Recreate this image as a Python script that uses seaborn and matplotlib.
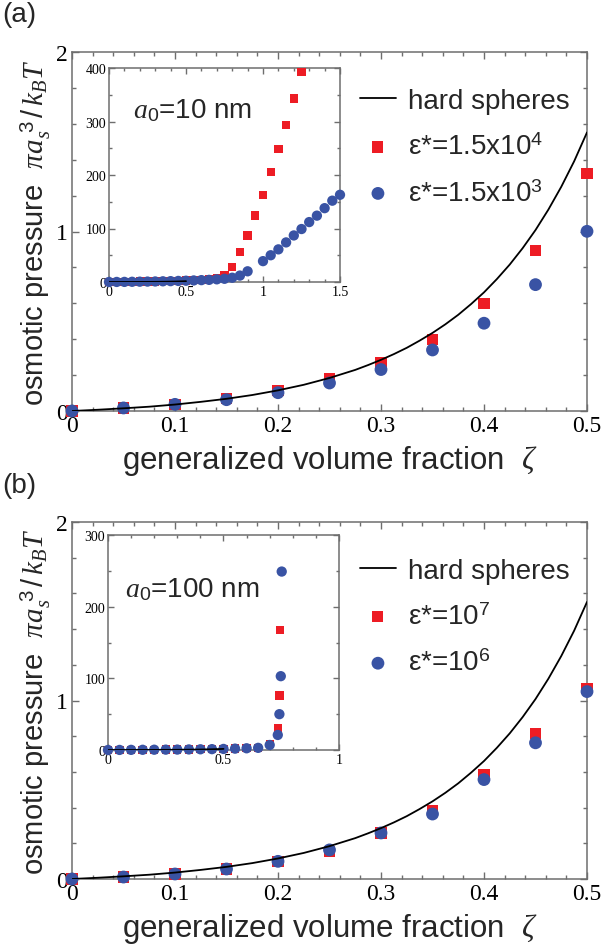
import matplotlib
matplotlib.use("Agg")
import matplotlib.pyplot as plt
import seaborn as sns
import pandas as pd
from matplotlib.ticker import MultipleLocator, FuncFormatter

# ---------------- data ----------------
zeta_main = [0.0, 0.05, 0.10, 0.15, 0.20, 0.25, 0.30, 0.35, 0.40, 0.45, 0.50]

# hard-sphere curve
zeta_hs = [0.0, 0.025, 0.05, 0.075, 0.10, 0.125, 0.15, 0.175, 0.20, 0.225, 0.25,
           0.275, 0.2875, 0.30, 0.3125, 0.325, 0.3375, 0.35, 0.3625, 0.375, 0.3875,
           0.40, 0.4125, 0.425, 0.4375, 0.45, 0.4625, 0.475, 0.4875, 0.50]
pi_hs = [0.0, 0.007, 0.015, 0.024, 0.036, 0.051, 0.068, 0.089, 0.115, 0.146, 0.184,
         0.229, 0.256, 0.285, 0.317, 0.352, 0.392, 0.435, 0.483, 0.536, 0.596,
         0.661, 0.735, 0.816, 0.907, 1.008, 1.122, 1.249, 1.391, 1.552]

# panel (a) main
a_red = [0.0, 0.017, 0.037, 0.068, 0.115, 0.180, 0.272, 0.398, 0.600, 0.893, 1.325]
a_blue = [0.0, 0.017, 0.037, 0.063, 0.102, 0.156, 0.231, 0.340, 0.489, 0.704, 1.001]
# panel (b) main
b_red = [0.0, 0.011, 0.028, 0.056, 0.099, 0.155, 0.258, 0.383, 0.583, 0.813, 1.065]
b_blue = [0.0, 0.011, 0.028, 0.056, 0.099, 0.163, 0.258, 0.364, 0.557, 0.763, 1.050]

# inset (a), a0 = 10 nm
ia_red_x = [0.0, 0.05, 0.10, 0.15, 0.20, 0.25, 0.30, 0.35, 0.40, 0.45, 0.50, 0.55, 0.60,
            0.65, 0.70, 0.75, 0.80, 0.85, 0.90, 0.95, 1.00, 1.05, 1.10, 1.15, 1.20, 1.25]
ia_red_y = [0.0, 0.1, 0.3, 0.5, 0.7, 0.9, 1.2, 1.5, 1.9, 2.3, 2.8, 3.4, 4.2,
            5.0, 7.0, 12, 28, 56, 87, 124, 163, 205, 248, 293, 343, 393]
ia_blue_x = [0.0, 0.05, 0.10, 0.15, 0.20, 0.25, 0.30, 0.35, 0.40, 0.45, 0.50, 0.55, 0.60,
             0.65, 0.70, 0.75, 0.80, 0.85, 0.90,
             1.00, 1.05, 1.10, 1.15, 1.20, 1.25, 1.30, 1.35, 1.40, 1.45, 1.50]
ia_blue_y = [0.0, 0.1, 0.2, 0.4, 0.6, 0.8, 1.0, 1.3, 1.6, 2.0, 2.4, 2.9, 3.5,
             4.0, 5.0, 6.0, 8.0, 12, 20,
             39, 50, 61, 74, 87, 99, 112, 124, 138, 152, 163]

# inset (b), a0 = 100 nm
ib_red_x = [0.0, 0.05, 0.10, 0.15, 0.20, 0.25, 0.30, 0.35, 0.40, 0.45, 0.50, 0.55, 0.60,
            0.65, 0.70, 0.735, 0.742, 0.745]
ib_red_y = [0.0, 0.1, 0.2, 0.3, 0.4, 0.5, 0.6, 0.8, 1.0, 1.2, 1.5, 1.9, 2.4,
            3.0, 8.0, 30, 76, 167]
ib_blue_x = [0.0, 0.05, 0.10, 0.15, 0.20, 0.25, 0.30, 0.35, 0.40, 0.45, 0.50, 0.55, 0.60,
             0.65, 0.70, 0.735, 0.742, 0.748, 0.752]
ib_blue_y = [0.0, 0.1, 0.2, 0.3, 0.4, 0.5, 0.6, 0.8, 1.0, 1.2, 1.5, 1.9, 2.4,
             3.0, 7.0, 21, 50, 103, 249]

labels_a = ["hard spheres", "ε*=1.5x10$^{4}$", "ε*=1.5x10$^{3}$"]
labels_b = ["hard spheres", "ε*=10$^{7}$", "ε*=10$^{6}$"]
inset_text_a = "$a$$_{0}$=10 nm"
inset_text_b = "$a$$_{0}$=100 nm"
xlabel = "generalized volume fraction  $\\zeta$"
ylabel = "osmotic pressure  $\\pi a_{s}^{\\ 3}\\,/\\,k_{B}T$"

# ---------------- style ----------------
sns.set_style("ticks")
plt.rcParams["font.family"] = ["Liberation Sans", "DejaVu Sans"]
plt.rcParams["mathtext.fontset"] = "custom"
plt.rcParams["mathtext.rm"] = "Liberation Sans"
plt.rcParams["mathtext.it"] = "Liberation Serif:italic"
plt.rcParams["mathtext.bf"] = "Liberation Sans:bold"

RED = "#ED1C24"
BLUE = "#3953A4"
SPINE = "#6E6E6E"

W, H = 601, 945
fig = plt.figure(figsize=(W / 100, H / 100), dpi=100)


def px_axes(left, right, top, bottom):
    return fig.add_axes([left / W, 1 - bottom / H, (right - left) / W, (bottom - top) / H])


fmt = FuncFormatter(lambda v, p: f"{v:g}")


def style(ax, xmaj, xmin, ymaj, ymin, lsize, majlen, minlen, pad):
    ax.xaxis.set_major_locator(MultipleLocator(xmaj))
    ax.xaxis.set_minor_locator(MultipleLocator(xmin))
    ax.yaxis.set_major_locator(MultipleLocator(ymaj))
    ax.yaxis.set_minor_locator(MultipleLocator(ymin))
    ax.xaxis.set_major_formatter(fmt)
    ax.yaxis.set_major_formatter(fmt)
    ax.tick_params(which="both", direction="in", top=True, right=True,
                   color=SPINE, width=1.0)
    ax.tick_params(which="major", length=majlen, labelsize=lsize,
                   labelfontfamily="Liberation Serif", pad=pad, labelcolor="black")
    ax.tick_params(which="minor", length=minlen)
    for s in ax.spines.values():
        s.set_color(SPINE)
        s.set_linewidth(1.1)
        s.set_visible(True)


def panel(ax, ins, red, blue, labels, irx, iry, ibx, iby, ixlim, iylim, iymaj,
          itext, itext_pos):
    df = pd.DataFrame({"zeta": zeta_main, "red": red, "blue": blue})
    hs = pd.DataFrame({"zeta": zeta_hs, "pi": pi_hs})
    sns.scatterplot(data=df, x="zeta", y="red", ax=ax, marker="s", s=64, color=RED,
                    edgecolor="none", linewidth=0, clip_on=False, zorder=3,
                    label=labels[1])
    sns.scatterplot(data=df, x="zeta", y="blue", ax=ax, marker="o", s=85, color=BLUE,
                    edgecolor="none", linewidth=0, clip_on=False, zorder=4,
                    label=labels[2])
    sns.lineplot(data=hs, x="zeta", y="pi", ax=ax, color="black", linewidth=1.3,
                 zorder=5, label=labels[0])
    ax.set_xlim(0, 0.5)
    ax.set_ylim(0, 2)
    style(ax, 0.1, 0.02, 1, 0.2, 17, 5, 3, 3)
    ax.set_xlabel(xlabel, fontsize=22.5, labelpad=5)
    ax.set_ylabel(ylabel, fontsize=21, labelpad=2)
    h, l = ax.get_legend_handles_labels()
    order = [l.index(t) for t in labels]
    ax.legend([h[i] for i in order], [l[i] for i in order], loc="upper left",
              bbox_to_anchor=(0.559, 0.90), frameon=False, fontsize=20,
              handlelength=1.3, handletextpad=0.45, labelspacing=0.72,
              borderaxespad=0, borderpad=0)

    ins.set_facecolor("white")
    ins.set_zorder(10)
    dr = pd.DataFrame({"x": irx, "y": iry})
    db = pd.DataFrame({"x": ibx, "y": iby})
    sns.scatterplot(data=dr, x="x", y="y", ax=ins, marker="s", s=36, color=RED,
                    edgecolor="none", linewidth=0, clip_on=False, zorder=3, legend=False)
    sns.scatterplot(data=db, x="x", y="y", ax=ins, marker="o", s=55, color=BLUE,
                    edgecolor="none", linewidth=0, clip_on=False, zorder=4, legend=False)
    sns.lineplot(data=hs, x="zeta", y="pi", ax=ins, color="black", linewidth=1.3,
                 zorder=5, legend=False)
    ins.set_xlim(*ixlim)
    ins.set_ylim(*iylim)
    style(ins, 0.5, 0.1, iymaj, iymaj / 2, 10, 4, 2.5, 2)
    ins.set_xlabel("")
    ins.set_ylabel("")
    ins.text(itext_pos[0], itext_pos[1], itext, transform=ins.transAxes,
             fontsize=20, ha="left", va="baseline")


axA = px_axes(72, 587, 53, 412)
insA = px_axes(109, 340, 69, 283)
axB = px_axes(72, 587, 523, 880)
insB = px_axes(108, 339, 536, 751)

panel(axA, insA, a_red, a_blue, labels_a, ia_red_x, ia_red_y, ia_blue_x, ia_blue_y,
      (0, 1.5), (0, 400), 100, inset_text_a, (0.105, 0.77))
panel(axB, insB, b_red, b_blue, labels_b, ib_red_x, ib_red_y, ib_blue_x, ib_blue_y,
      (0, 1), (0, 300), 100, inset_text_b, (0.075, 0.715))

fig.text(2 / W, 1 - 2 / H, "(a)", fontsize=20, ha="left", va="top")
fig.text(2 / W, 1 - 473 / H, "(b)", fontsize=20, ha="left", va="top")

fig.savefig("out.png", dpi=100)
